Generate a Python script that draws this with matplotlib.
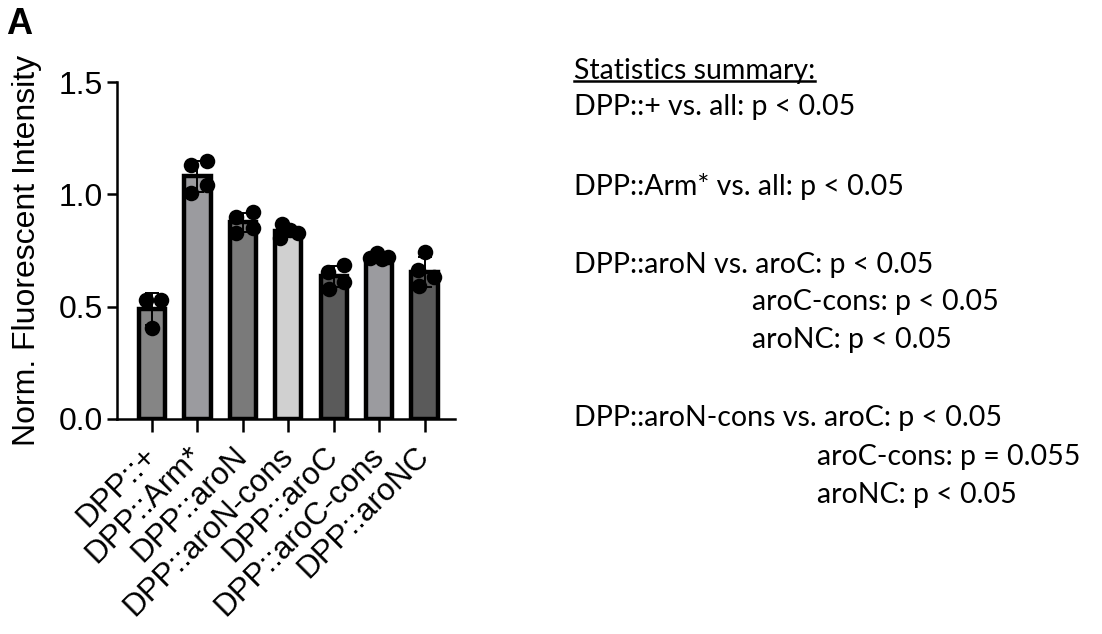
import numpy as np
import matplotlib
matplotlib.use("Agg")
import matplotlib.pyplot as plt
from matplotlib.lines import Line2D

# ---------------- data ----------------
categories = ["DPP::+", "DPP::Arm*", "DPP::aroN", "DPP::aroN-cons",
              "DPP::aroC", "DPP::aroC-cons", "DPP::aroNC"]
bar_means = [0.49, 1.08, 0.875, 0.835, 0.635, 0.72, 0.655]
points = [
    [0.53, 0.53, 0.405],
    [1.13, 1.15, 1.005, 1.04],
    [0.90, 0.92, 0.83, 0.85],
    [0.87, 0.84, 0.83, 0.805],
    [0.685, 0.655, 0.61, 0.58],
    [0.74, 0.72, 0.715, 0.71],
    [0.745, 0.665, 0.63, 0.59],
]
bar_colors = ["#858585", "#9b9b9f", "#7a7a7a", "#d0d0d0",
              "#5a5a5a", "#9b9b9f", "#5a5a5a"]
yticks = [0.0, 0.5, 1.0, 1.5]
ylabel = "Norm. Fluorescent Intensity"

stats_title = "Statistics summary:"
stats_lines = [
    ("DPP::+ vs. all: p < 0.05", 0),
    ("DPP::Arm* vs. all: p < 0.05", 0),
    ("DPP::aroN vs. aroC: p < 0.05", 0),
    ("aroC-cons: p < 0.05", 1),
    ("aroNC: p < 0.05", 1),
    ("DPP::aroN-cons vs. aroC: p < 0.05", 0),
    ("aroC-cons: p = 0.055", 2),
    ("aroNC: p < 0.05", 2),
]

# jitter of the dots within each bar (layout only)
jitter = [
    [-0.13, 0.20, 0.0],
    [-0.15, 0.22, -0.15, 0.22],
    [-0.15, 0.22, -0.15, 0.22],
    [-0.13, 0.04, 0.22, -0.18],
    [0.22, -0.13, 0.22, -0.11],
    [-0.04, 0.20, -0.20, 0.07],
    [0.02, -0.15, 0.20, -0.13],
]

W, H = 1102, 634
fig = plt.figure(figsize=(W / 100, H / 100), dpi=100)
plt.rcParams['font.family'] = ['Liberation Sans', 'DejaVu Sans']

ax = fig.add_axes([117 / W, 1 - 419 / H, (455 - 117) / W, (419 - 82) / H])
x = np.arange(len(categories))
ax.bar(x, bar_means, width=0.58, color=bar_colors, edgecolor="black",
       linewidth=3.2, zorder=2)
sds = [np.std(p, ddof=1) for p in points]
ax.errorbar(x, bar_means, yerr=sds, fmt="none", ecolor="black",
            elinewidth=1.4, capsize=5, capthick=1.4, zorder=3)
for i, (pts, jit) in enumerate(zip(points, jitter)):
    ax.scatter(np.array(jit) + x[i], pts, s=125, color="black", zorder=4,
               linewidths=0)

ax.set_xlim(-0.77, 6.67)
ax.set_ylim(0, 1.5)
ax.set_yticks(yticks)
ax.set_yticklabels([f"{v:.1f}" for v in yticks], fontsize=23)
ax.set_xticks(x)
ax.set_xticklabels(categories, rotation=45, ha="right", va="center",
                   rotation_mode="anchor", fontsize=22.5)
ax.tick_params(axis="y", length=7, width=1.8, pad=3)
ax.tick_params(axis="x", length=9.5, width=1.8, pad=14)
for s in ["top", "right"]:
    ax.spines[s].set_visible(False)
for s in ["left", "bottom"]:
    ax.spines[s].set_linewidth(1.8)
ax.set_ylabel(ylabel, fontsize=23, labelpad=12)

fig.text(6 / W, 1 - 7 / H, "A", fontsize=26, fontweight="bold",
         ha="left", va="top")

# statistics summary text
tfont = ["Lato", "DejaVu Sans"]
fs = 20.5
indents = {0: 574, 1: 752, 2: 817}
ys = [107, 187, 265, 302, 340, 418, 457, 495]
title = fig.text(indents[0] / W, 1 - 71 / H, stats_title, fontsize=fs,
                 family=tfont, ha="left", va="center")
for (txt, ind), yy in zip(stats_lines, ys):
    fig.text(indents[ind] / W, 1 - yy / H, txt, fontsize=fs, family=tfont,
             ha="left", va="center")

fig.canvas.draw()
bb = title.get_window_extent()
uy = bb.y0 + 3
fig.add_artist(Line2D([bb.x0 / W, bb.x1 / W], [uy / H, uy / H],
                      color="black", linewidth=1.8,
                      transform=fig.transFigure))

fig.savefig("out.png", dpi=100)
